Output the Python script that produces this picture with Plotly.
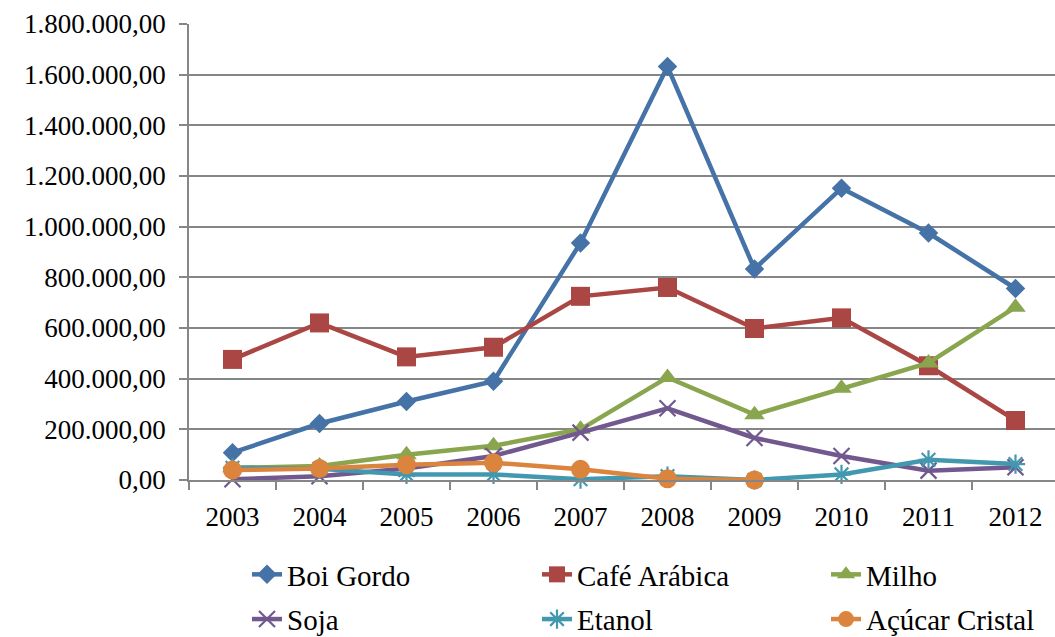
import plotly.graph_objects as go

years = ["2003", "2004", "2005", "2006", "2007", "2008", "2009", "2010", "2011", "2012"]

boi_gordo = [108000, 223000, 310000, 390000, 936000, 1632000, 833000, 1152000, 975000, 756000]
cafe_arabica = [476000, 620000, 486000, 524000, 725000, 760000, 598000, 640000, 451000, 235000]
milho = [48000, 55000, 100000, 135000, 200000, 405000, 258000, 362000, 462000, 682000]
soja = [3000, 15000, 45000, 95000, 187000, 283000, 166000, 95000, 37000, 50000]
etanol = [48000, 44000, 22000, 22000, 3000, 15000, 0, 22000, 80000, 63000]
acucar_cristal = [39000, 45000, 60000, 68000, 42000, 5000, 0, None, None, None]

y_ticks = [0, 200000, 400000, 600000, 800000, 1000000, 1200000, 1400000, 1600000, 1800000]


def br_format(v):
    s = f"{v:,.2f}"
    return s.replace(",", "X").replace(".", ",").replace("X", ".")


y_labels = [br_format(v) for v in y_ticks]

FONT = "'Times New Roman', 'Liberation Serif', serif"

# name, values, colour, marker, legend column
series = [
    ("Boi Gordo", boi_gordo, "#4572A7", dict(symbol="diamond", size=15), "legend"),
    ("Café Arábica", cafe_arabica, "#AA4643", dict(symbol="square", size=19), "legend2"),
    ("Milho", milho, "#89A54E", dict(symbol="triangle-up", size=18), "legend3"),
    ("Soja", soja, "#71588F", dict(symbol="x-thin-open", size=16, line=dict(width=2.2, color="#71588F")), "legend"),
    ("Etanol", etanol, "#4198AF", dict(symbol="asterisk-open", size=16, line=dict(width=2.2, color="#4198AF")), "legend2"),
    ("Açúcar Cristal", acucar_cristal, "#DB843D", dict(symbol="circle", size=19), "legend3"),
]

fig = go.Figure()
for name, vals, color, marker, leg in series:
    fig.add_trace(go.Scatter(
        x=years, y=vals, name=name, mode="lines+markers",
        line=dict(color=color, width=4.5),
        marker=dict(color=color, **marker),
        cliponaxis=False, legend=leg, legendgroup=name,
    ))

legend_common = dict(
    orientation="v", xref="container", yref="container", xanchor="left", yanchor="middle",
    y=1 - 597 / 637, itemwidth=30, tracegroupgap=4,
    font=dict(family=FONT, size=29, color="black"),
    bgcolor="rgba(0,0,0,0)",
)

fig.update_layout(
    width=1055, height=637,
    margin=dict(l=189, r=0, t=24, b=157, autoexpand=False),
    paper_bgcolor="white", plot_bgcolor="white",
    font=dict(family=FONT, size=27, color="black"),
    showlegend=True,
    legend=dict(x=247 / 1055, **legend_common),
    legend2=dict(x=537 / 1055, **legend_common),
    legend3=dict(x=826 / 1055, **legend_common),
    xaxis=dict(
        type="category", range=[-0.5, 9.454], tickson="boundaries",
        ticks="outside", ticklen=8, tickcolor="#868686", tickwidth=1.5,
        showline=True, linecolor="#868686", linewidth=1.5,
        showgrid=False, ticklabelstandoff=12,
        tickfont=dict(family=FONT, size=27, color="black"),
    ),
    yaxis=dict(
        range=[0, 1800000], tickvals=y_ticks, ticktext=y_labels,
        ticks="outside", ticklen=8, tickcolor="#868686", tickwidth=1.5,
        showline=True, linecolor="#868686", linewidth=1.5,
        showgrid=True, gridcolor="#868686", gridwidth=1.5,
        zeroline=False, ticklabelstandoff=8,
        tickfont=dict(family=FONT, size=27, color="black"),
    ),
)

fig.write_html("out.html")
